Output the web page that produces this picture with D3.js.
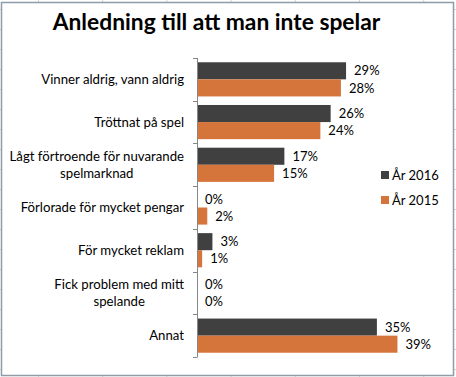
<!DOCTYPE html>
<html lang="sv">
<head>
<meta charset="UTF-8">
<title>Anledning till att man inte spelar</title>
<script src="https://d3js.org/d3.v7.min.js"></script>
<style>
  body { margin: 0; background: #fff; }
  svg { display: block; font-family: Lato, "Open Sans", sans-serif; }
  .cat { font-size: 13.2px; fill: #000; }
  .val { font-size: 13px; fill: #000; }
  .legend text { font-size: 13px; fill: #000; }
</style>
</head>
<body>
<svg width="456" height="377"></svg>
<script>
// chart data
const title = "Anledning till att man inte spelar";
const categories = [
  "Vinner aldrig, vann aldrig",
  "Tröttnat på spel",
  "Lågt förtroende för nuvarande\nspelmarknad",
  "Förlorade för mycket pengar",
  "För mycket reklam",
  "Fick problem med mitt\nspelande",
  "Annat"
];
const seriesNames = ["År 2016", "År 2015"];
const values2016 = [29, 26, 17, 0, 3, 0, 35];
const values2015 = [28, 24, 15, 2, 1, 0, 39];
const colors = ["#404040", "#d5743b"];

const W = 456, H = 377;
const svg = d3.select("svg");

// excel sheet grid behind the chart
const grid = svg.append("g").attr("stroke", "#d6d6d6").attr("stroke-width", 1);
d3.range(38.5, W, 64.2).forEach(x => {
  grid.append("line").attr("x1", x).attr("x2", x).attr("y1", 0).attr("y2", H);
});
d3.range(9.5, H, 20).forEach(y => {
  grid.append("line").attr("x1", 0).attr("x2", W).attr("y1", y).attr("y2", y);
});

// chart area
svg.append("rect")
  .attr("x", 1.5).attr("y", 2.5)
  .attr("width", 452).attr("height", 373)
  .attr("fill", "#fff")
  .attr("stroke", "#8f9ba7")
  .attr("stroke-width", 1.5);

svg.append("text")
  .attr("x", 216.5).attr("y", 30)
  .attr("text-anchor", "middle")
  .style("font-size", "22.8px")
  .style("font-weight", "bold")
  .text(title);

const x = d3.scaleLinear().domain([0, 50]).range([197, 454]);
const y = d3.scaleBand().domain(categories).range([58, 357])
  .paddingInner(0.2).paddingOuter(0.1);
const ySub = d3.scaleBand().domain(seriesNames).range([0, y.bandwidth()]);

const rows = categories.map((c, i) => ({ cat: c, vals: [values2016[i], values2015[i]] }));

// bars
const groups = svg.append("g").selectAll("g")
  .data(rows)
  .join("g")
  .attr("transform", d => `translate(0,${y(d.cat)})`);

groups.selectAll("rect")
  .data(d => d.vals.map((v, k) => ({ v, k })))
  .join("rect")
  .attr("x", x(0))
  .attr("y", d => ySub(seriesNames[d.k]))
  .attr("width", d => x(d.v) - x(0))
  .attr("height", ySub.bandwidth())
  .attr("fill", d => colors[d.k]);

groups.selectAll("text")
  .data(d => d.vals.map((v, k) => ({ v, k })))
  .join("text")
  .attr("class", "val")
  .attr("x", d => x(d.v) + 8)
  .attr("y", d => ySub(seriesNames[d.k]) + ySub.bandwidth() / 2)
  .attr("dy", "0.36em")
  .text(d => d.v + "%");

// category axis
const axis = svg.append("g").attr("stroke", "#868686").attr("stroke-width", 1);
const edges = categories.map(c => y(c) - y.paddingInner() * y.step() / 2);
edges.push(edges[edges.length - 1] + y.step());
axis.append("line")
  .attr("x1", x(0) + 0.5).attr("x2", x(0) + 0.5)
  .attr("y1", edges[0]).attr("y2", edges[edges.length - 1]);
edges.forEach(e => {
  axis.append("line")
    .attr("x1", x(0) - 4).attr("x2", x(0) + 0.5)
    .attr("y1", Math.round(e) + 0.5).attr("y2", Math.round(e) + 0.5);
});

// category labels: block right aligned, lines centred within block
const labelRight = 184;
categories.forEach(c => {
  const lines = c.split("\n");
  const cy = y(c) + y.bandwidth() / 2;
  const t = svg.append("text").attr("class", "cat").attr("text-anchor", "middle");
  lines.forEach((ln, i) => {
    t.append("tspan")
      .attr("y", cy + (i - (lines.length - 1) / 2) * 17)
      .attr("dy", "0.36em")
      .text(ln);
  });
  let wmax = 0;
  t.selectAll("tspan").each(function() {
    wmax = Math.max(wmax, this.getComputedTextLength());
  });
  t.selectAll("tspan").attr("x", labelRight - wmax / 2);
});

// legend
const legend = svg.append("g").attr("class", "legend");
seriesNames.forEach((s, k) => {
  const ly = 175 + k * 25;
  legend.append("rect")
    .attr("x", 381).attr("y", ly - 4)
    .attr("width", 8).attr("height", 8)
    .attr("fill", colors[k]);
  legend.append("text")
    .attr("x", 392).attr("y", ly)
    .attr("dy", "0.36em")
    .text(s);
});
</script>
</body>
</html>
